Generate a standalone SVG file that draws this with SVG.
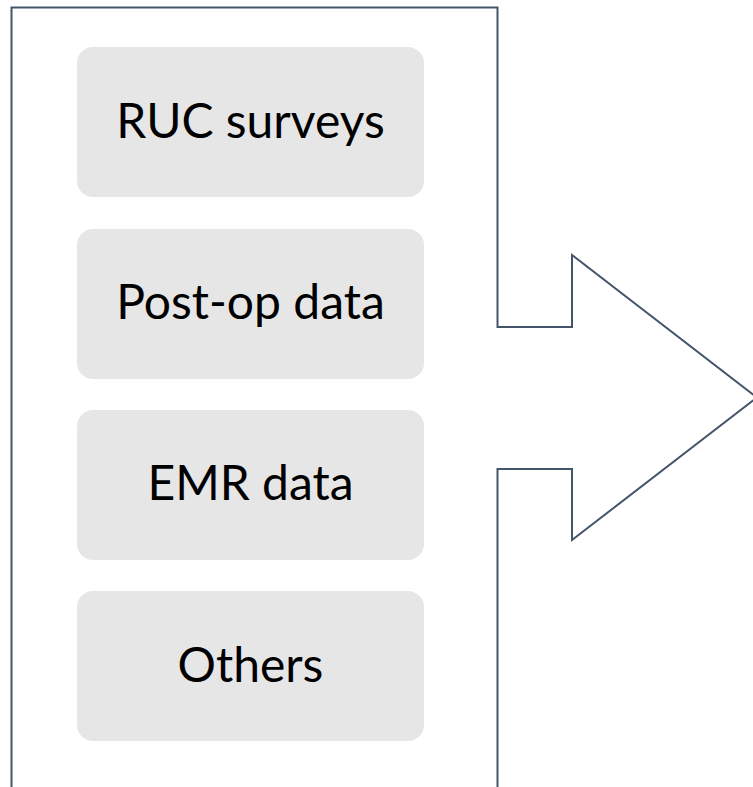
<svg xmlns="http://www.w3.org/2000/svg" width="753" height="787" viewBox="0 0 753 787">
  <style>
    .frame { fill: none; stroke: #44546A; stroke-width: 2; stroke-linejoin: miter; }
    .box { fill: #E7E6E6; }
    .label { font-family: Lato, "Open Sans", "Liberation Sans", sans-serif; font-size: 48px; fill: #000000; text-anchor: middle; }
  </style>
  <rect width="753" height="787" fill="#FFFFFF"/>
  <g id="callout-arrow">
    <path class="frame" d="M11.5,790 L11.5,7.5 L497.5,7.5 L497.5,327 L572,327 L572,255 L757,397.5 L572,540 L572,469 L497.5,469 L497.5,790"/>
  </g>
  <g id="node-ruc">
    <rect class="box" x="77" y="47" width="347" height="150" rx="16" ry="16"/>
    <text class="label" x="250.5" y="138">RUC surveys</text>
  </g>
  <g id="node-postop">
    <rect class="box" x="77" y="229" width="347" height="150" rx="16" ry="16"/>
    <text class="label" x="250.5" y="319">Post-op data</text>
  </g>
  <g id="node-emr">
    <rect class="box" x="77" y="410" width="347" height="150" rx="16" ry="16"/>
    <text class="label" x="250.5" y="500">EMR data</text>
  </g>
  <g id="node-others">
    <rect class="box" x="77" y="591" width="347" height="150" rx="16" ry="16"/>
    <text class="label" x="250.5" y="682">Others</text>
  </g>
</svg>
